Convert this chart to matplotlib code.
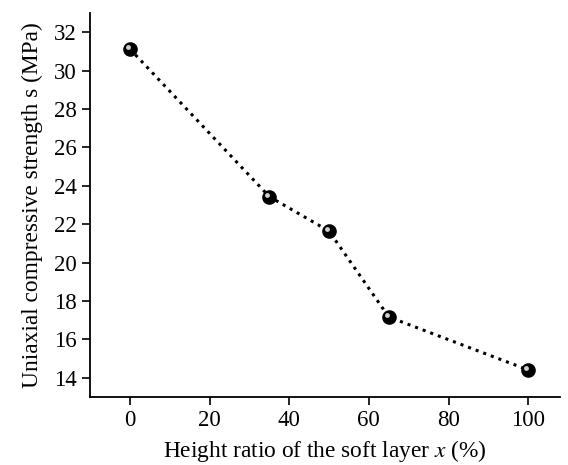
import matplotlib.pyplot as plt
from matplotlib.transforms import ScaledTranslation

plt.rcParams['font.family'] = ['Liberation Serif', 'DejaVu Serif']
plt.rcParams['mathtext.fontset'] = 'stix'

# data
ratio = [0, 35, 50, 65, 100]
strength = [31.13, 23.44, 21.64, 17.17, 14.41]

xticks = [0, 20, 40, 60, 80, 100]
yticks = [14, 16, 18, 20, 22, 24, 26, 28, 30, 32]

fig = plt.figure(figsize=(5.68, 4.65), dpi=100)
ax = fig.add_axes([0.1585, 0.1462, 0.8275, 0.8258])

ax.plot(ratio, strength, color='black', linestyle=':', linewidth=2.2,
        marker='o', markersize=9.5, markerfacecolor='black',
        markeredgecolor='black', zorder=3)
# little highlight on each ball
shift = ScaledTranslation(-2 / 100, 2 / 100, fig.dpi_scale_trans)
ax.plot(ratio, strength, linestyle='none', marker='o', markersize=3.5,
        markerfacecolor='#cfcfcf', markeredgecolor='none',
        transform=ax.transData + shift, zorder=4)

ax.set_xlim(-10, 108)
ax.set_ylim(13, 33)
ax.set_xticks(xticks)
ax.set_yticks(yticks)

for s in ['top', 'right']:
    ax.spines[s].set_visible(False)
for s in ['left', 'bottom']:
    ax.spines[s].set_linewidth(1.3)

ax.tick_params(direction='out', length=6, width=1.2, labelsize=16.5, pad=3.5)
ax.set_xlabel('Height ratio of the soft layer $x$ (%)', fontsize=16.8, labelpad=5)
ax.set_ylabel('Uniaxial compressive strength s (MPa)', fontsize=16.8, labelpad=8)

plt.savefig('out.png', dpi=100)
